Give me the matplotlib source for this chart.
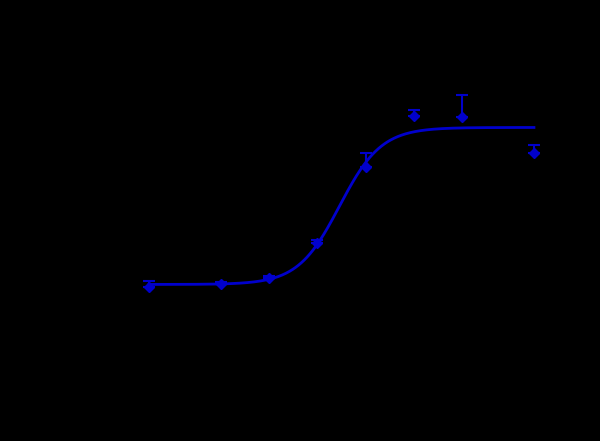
import numpy as np
import matplotlib
matplotlib.use('Agg')
import matplotlib.pyplot as plt

# log concentration of each dose and the mean response with its upper error
log_conc = [-10.5, -9.0, -8.0, -7.0, -6.0, -5.0, -4.0, -2.5]
response = [8.8, 10.6, 14.0, 34.1, 77.6, 106.6, 106.3, 85.7]
err_up = [3.4, 1.0, 1.0, 1.5, 8.0, 3.7, 12.6, 4.6]

# four-parameter logistic fit
fit_bottom = 10.3
fit_top = 100.3
fit_logec50 = -6.54
fit_hill = 1.0

blue = '#0000cc'

fig = plt.figure(figsize=(6, 4.41), dpi=100, facecolor='black')
ax = fig.add_axes([0.2083, 0.2351, 0.7217, 0.6329])
ax.set_facecolor('black')

# fitted curve
xs = np.linspace(min(log_conc), max(log_conc), 400)
ys = fit_bottom + (fit_top - fit_bottom) / (1 + 10 ** ((fit_logec50 - xs) * fit_hill))
ax.plot(xs, ys, color=blue, lw=2)

# points with error bars drawn above only
ax.errorbar(log_conc, response, yerr=[np.zeros(len(err_up)), err_up],
            fmt='D', color=blue, ms=5, capsize=4, elinewidth=1.5, capthick=1.5)

ax.set_xlim(-11, -2)
ax.set_ylim(-20, 140)

# axes and labels are black on the black page, as in the reference
for side in ['top', 'right']:
    ax.spines[side].set_visible(False)
for side in ['left', 'bottom']:
    ax.spines[side].set_color('black')
ax.tick_params(colors='black')

fig.savefig('out.png', dpi=100, facecolor='black')
